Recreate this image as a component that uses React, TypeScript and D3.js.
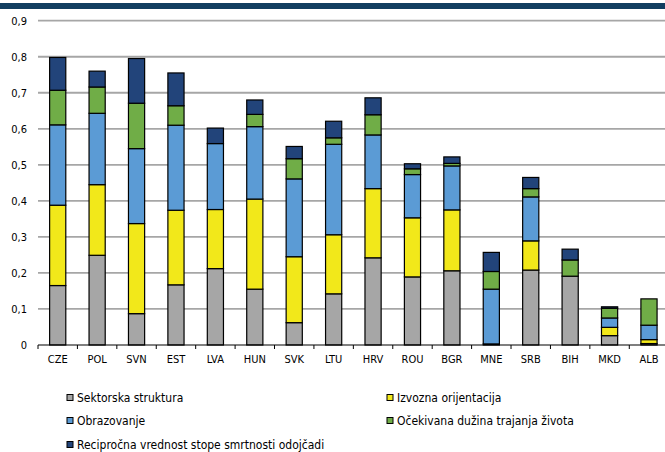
import React from "react";
import * as d3 from "d3";

const categories = ["CZE","POL","SVN","EST","LVA","HUN","SVK","LTU","HRV","ROU","BGR","MNE","SRB","BIH","MKD","ALB"];
const sektorska = [0.165,0.249,0.087,0.167,0.212,0.155,0.062,0.142,0.242,0.189,0.206,0.003,0.208,0.191,0.026,0.004];
const izvozna = [0.223,0.196,0.250,0.207,0.164,0.250,0.183,0.164,0.192,0.164,0.169,0,0.081,0,0.023,0.011];
const obrazovanje = [0.223,0.198,0.208,0.236,0.183,0.201,0.216,0.251,0.149,0.120,0.122,0.152,0.122,0,0.026,0.040];
const ocekivana = [0.096,0.073,0.126,0.054,0,0.034,0.056,0.018,0.056,0.016,0.007,0.049,0.023,0.045,0.027,0.073];
const reciprocna = [0.091,0.044,0.124,0.091,0.043,0.040,0.034,0.046,0.047,0.014,0.018,0.053,0.031,0.030,0.004,0];

const seriesNames = [
  "Sektorska struktura",
  "Izvozna orijentacija",
  "Obrazovanje",
  "Očekivana dužina trajanja života",
  "Recipročna vrednost stope smrtnosti odojčadi",
];
const seriesColors = ["#a6a6a6", "#f2e81a", "#5b9bd5", "#70ad47", "#22447a"];
const yTicks = [0, 0.1, 0.2, 0.3, 0.4, 0.5, 0.6, 0.7, 0.8, 0.9];

const FONT = "'Liberation Sans Narrow', 'DejaVu Sans Condensed', 'Arial Narrow', sans-serif";

export default function App() {
  const W = 665, H = 452;
  const x = d3.scaleBand<string>().domain(categories).range([38, 668.7]).padding(0);
  const y = d3.scaleLinear().domain([0, 0.9]).range([345, 20.7]);
  const keys = ["s0", "s1", "s2", "s3", "s4"];
  const allSeries = [sektorska, izvozna, obrazovanje, ocekivana, reciprocna];
  const rows = categories.map((c, i) => {
    const r: any = { cat: c };
    keys.forEach((k, j) => (r[k] = allSeries[j][i]));
    return r;
  });
  const stacked = d3.stack<any>().keys(keys)(rows);
  const bw = x.bandwidth() * 0.41;
  const fmt = (v: number) => (v === 0 ? "0" : d3.format(".1f")(v).replace(".", ","));

  const legendPos = [
    [67, 398], [387, 398], [67, 421], [387, 421], [67, 445],
  ];

  return (
    <svg width={W} height={H} style={{ position: "absolute", left: 0, top: 0, background: "#fff" }} fontFamily={FONT}>
      <rect x={0} y={0} width={W} height={H} fill="#fff" />
      <rect x={0} y={3} width={W} height={6} fill="#123e60" />
      {yTicks.map((t) => (
        <g key={t}>
          {t > 0 && (
            <line x1={38} x2={W} y1={y(t)} y2={y(t)} stroke="#a6a6a6" strokeWidth={1.8} />
          )}
          <text x={27} y={y(t) + 4} textAnchor="end" fontSize={11} fill="#000">
            {fmt(t)}
          </text>
        </g>
      ))}
      {stacked.map((s, j) => (
        <g key={j} fill={seriesColors[j]}>
          {s.map((d, i) => {
            const h = y(d[0]) - y(d[1]);
            if (h <= 0) return null;
            return (
              <rect
                key={i}
                x={(x(categories[i]) as number) + (x.bandwidth() - bw) / 2}
                y={y(d[1])}
                width={bw}
                height={h}
                stroke="#000"
                strokeWidth={1.2}
              />
            );
          })}
        </g>
      ))}
      <line x1={38} x2={W} y1={y(0)} y2={y(0)} stroke="#000" strokeWidth={1.2} />
      {categories.map((c, i) => (
        <g key={c}>
          <line x1={x(c) as number} x2={x(c) as number} y1={y(0)} y2={y(0) + 4} stroke="#000" strokeWidth={1} />
          <text x={(x(c) as number) + x.bandwidth() / 2} y={363} textAnchor="middle" fontSize={11} fill="#000">
            {c}
          </text>
        </g>
      ))}
      {seriesNames.map((n, j) => (
        <g key={n}>
          <rect x={legendPos[j][0]} y={legendPos[j][1] - 3.5} width={6} height={6} fill={seriesColors[j]} stroke="#000" strokeWidth={1} />
          <text x={legendPos[j][0] + 10} y={legendPos[j][1] + 4} fontSize={12} fill="#000">
            {n}
          </text>
        </g>
      ))}
    </svg>
  );
}
